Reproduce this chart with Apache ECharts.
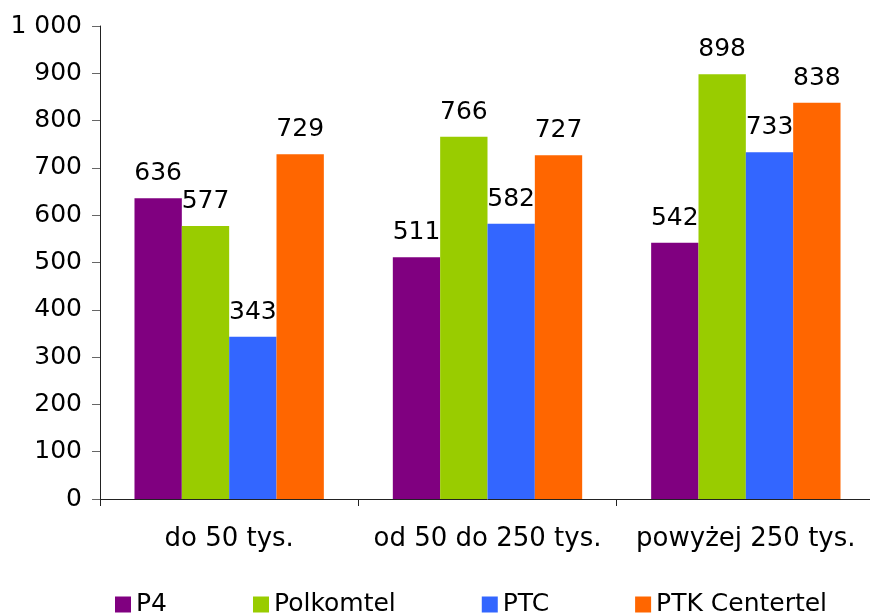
<!DOCTYPE html>
<html><head><meta charset="utf-8">
<script src="https://cdn.jsdelivr.net/npm/echarts@6/dist/echarts.min.js"></script>
<style>html,body{margin:0;padding:0;background:#fff;overflow:hidden}#c{width:880px;height:615px}</style>
</head><body><div id="c"></div>
<script>
const categories = ['do 50 tys.', 'od 50 do 250 tys.', 'powyżej 250 tys.'];
const seriesNames = ['P4', 'Polkomtel', 'PTC', 'PTK Centertel'];
const P4 = [636, 511, 542];
const Polkomtel = [577, 766, 898];
const PTC = [343, 582, 733];
const PTKCentertel = [729, 727, 838];
const colors = ['#800080', '#99CC00', '#3366FF', '#FF6600'];
const values = [P4, Polkomtel, PTC, PTKCentertel];
const FONT = 'DejaVu Sans';

const chart = echarts.init(document.getElementById('c'), null, {renderer: 'canvas'});
chart.setOption({
  animation: false,
  textStyle: {fontFamily: FONT},
  grid: {left: 100, top: 26, width: 775, height: 473, containLabel: false},
  legend: {
    left: 115, top: 592, padding: 0, itemWidth: 16, itemHeight: 16, itemGap: 86,
    icon: 'rect',
    textStyle: {fontFamily: FONT, fontSize: 25, color: '#000'},
    data: seriesNames
  },
  xAxis: {
    type: 'category', data: categories,
    axisLine: {lineStyle: {color: '#222', width: 1}},
    axisTick: {show: true, length: 7, interval: 0, lineStyle: {color: '#222'}},
    axisLabel: {fontFamily: FONT, fontSize: 26, color: '#000', margin: 27, interval: 0}
  },
  yAxis: {
    type: 'value', min: 0, max: 1000, interval: 100,
    splitLine: {show: false},
    axisLine: {show: true, lineStyle: {color: '#222', width: 1}},
    axisTick: {show: true, length: 8, lineStyle: {color: '#666'}},
    axisLabel: {
      fontFamily: FONT, fontSize: 25, color: '#000', margin: 18,
      formatter: v => v >= 1000 ? String(v).replace(/\B(?=(\d{3})+(?!\d))/g, ' ') : String(v)
    }
  },
  series: seriesNames.map((n, i) => ({
    name: n, type: 'bar', data: values[i],
    itemStyle: {color: colors[i]},
    barGap: '0%', barCategoryGap: '26.7%',
    label: {show: true, position: 'top', distance: 12, fontFamily: FONT, fontSize: 25, color: '#000'}
  }))
});
</script></body></html>
